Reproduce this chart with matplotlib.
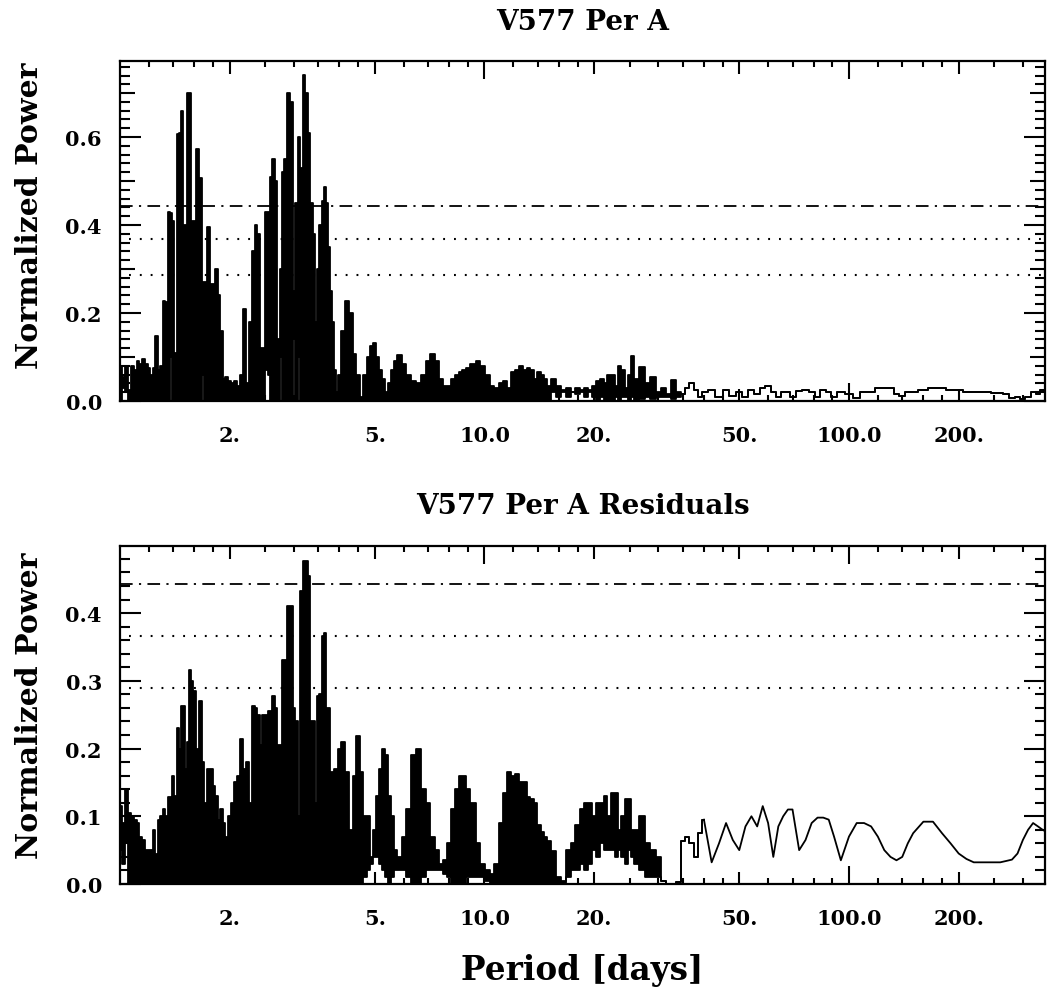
import numpy as np
import matplotlib
matplotlib.use("Agg")
import matplotlib.pyplot as plt
from matplotlib.ticker import FixedLocator, MultipleLocator, NullFormatter

plt.rcParams['font.family'] = ['DejaVu Serif']
plt.rcParams['font.weight'] = 'bold'

# ---------------- data ----------------
period = [
    1.00, 1.02, 1.04, 1.06, 1.08, 1.10, 1.12, 1.14, 1.16, 1.18,
    1.20, 1.22, 1.24, 1.26, 1.28, 1.30, 1.32, 1.34, 1.36, 1.38,
    1.40, 1.42, 1.44, 1.46, 1.48, 1.50, 1.52, 1.54, 1.56, 1.58, 1.60,
    1.63, 1.66, 1.69, 1.72, 1.75, 1.78, 1.81, 1.84, 1.87, 1.90, 1.93, 1.96,
    2.00, 2.04, 2.08, 2.12, 2.16, 2.20, 2.24, 2.28, 2.32, 2.36, 2.40,
    2.44, 2.48, 2.52, 2.56, 2.60, 2.64, 2.68, 2.72, 2.76, 2.80,
    2.85, 2.90, 2.95, 3.00, 3.05, 3.10, 3.15, 3.20, 3.25, 3.30, 3.35, 3.40,
    3.45, 3.50, 3.55, 3.60, 3.65, 3.70, 3.75, 3.80, 3.85, 3.90, 3.95, 4.00,
    4.1, 4.2, 4.3, 4.4, 4.5, 4.6, 4.7, 4.8, 4.9, 5.0,
    5.1, 5.2, 5.3, 5.4, 5.5, 5.6, 5.7, 5.8, 5.9, 6.0,
    6.2, 6.4, 6.6, 6.8, 7.0, 7.2, 7.4, 7.6, 7.8, 8.0, 8.2, 8.4, 8.6, 8.8, 9.0,
    9.3, 9.6, 9.9, 10.2, 10.5, 10.8, 11.1, 11.4, 11.7, 12.0,
    12.3, 12.6, 12.9, 13.2, 13.5, 13.8, 14.1, 14.4, 14.7, 15.0,
    15.5, 16.0, 16.5, 17.0, 17.5, 18.0, 18.5, 19.0, 19.5, 20.0, 20.5,
    21.0, 21.5, 22.0, 22.5, 23.0, 23.5, 24.0, 24.5, 25.0, 25.5, 26.0,
    27, 28, 29, 30, 31, 32, 33, 34, 35, 36, 37, 38, 39, 40,
    42, 44, 46, 48, 50, 52, 54, 56, 58, 60, 62, 64, 66, 68, 70,
    73, 76, 79, 82, 85, 88, 91, 95,
    100, 105, 110, 115, 120, 125, 130, 135, 140, 145, 150,
    160, 170, 180, 190, 200, 210, 220, 230, 240, 250, 260, 270, 280, 290,
    300, 310, 320, 330, 340, 345]

# upper envelope of the periodogram, "V577 Per A"
top_hi = [
    .08, .055, .08, .025, .08, .07, .09, .085, .095, .085,
    .075, .06, .075, .148, .07, .08, .228, .225, .43, .427,
    .41, .11, .608, .61, .66, .40, .40, .70, .70, .41, .41,
    .573, .507, .27, .27, .396, .266, .266, .30, .24, .16, .05, .055,
    .045, .04, .045, .035, .06, .21, .04, .18, .34, .40, .38,
    .12, .12, .43, .43, .51, .55, .50, .14, .30, .52,
    .55, .70, .68, .25, .45, .60, .53, .742, .70, .61, .45, .38,
    .18, .30, .40, .455, .486, .45, .35, .25, .18, .07, .02, .06,
    .16, .227, .20, .107, .06, .01, .06, .10, .125, .132,
    .10, .07, .05, .02, .04, .07, .09, .105, .105, .085,
    .06, .045, .04, .06, .09, .107, .09, .05, .035, .035, .05, .06, .065, .07, .075,
    .085, .09, .08, .06, .035, .03, .04, .045, .03, .065,
    .07, .08, .07, .075, .07, .05, .065, .06, .05, .035,
    .05, .035, .025, .03, .02, .03, .025, .03, .025, .035, .045,
    .05, .04, .058, .058, .035, .08, .07, .03, .06, .102, .05,
    .077, .04, .055, .02, .03, .015, .047, .02, .015, .03, .04, .025, .01, .02,
    .025, .01, .025, .012, .02, .01, .025, .015, .03, .035, .02, .01, .02, .02, .01,
    .022, .025, .02, .01, .025, .02, .01, .02,
    .015, .006, .02, .02, .03, .03, .03, .015, .012, .02, .02,
    .025, .03, .03, .025, .025, .02, .02, .02, .02, .018, .018, .015, .007, .01,
    .005, .01, .02, .015, .025, .02]

# lower envelope where the curve oscillates faster than a pixel (P < 35 d)
top_lo = [
    .0, .03, .02, .0, .0, .0, .0, .0, .0, .0,
    .0, .0, .0, .0, .0, .0, .0, .0, .0, .10,
    .0, .0, .0, .0, .0, .0, .0, .0, .0, .0, .0,
    .0, .0, .06, .0, .0, .0, .0, .0, .0, .0, .0, .0,
    .0, .0, .0, .0, .0, .0, .0, .0, .0, .0, .0,
    .0, .0, .07, .06, .0, .0, .0, .0, .10, .0,
    .0, .0, .0, .14, .0, .10, .0, .0, .0, .0, .0, .0,
    .0, .0, .0, .0, .0, .0, .0, .0, .0, .0, .0, .0,
    .0, .0, .0, .0, .0, .0, .0, .0, .0, .0,
    .0, .0, .0, .0, .0, .0, .0, .0, .0, .0,
    .0, .0, .0, .0, .0, .0, .0, .0, .0, .0, .0, .0, .0, .0, .0,
    .0, .0, .0, .0, .0, .0, .0, .0, .0, .0,
    .0, .0, .0, .0, .0, .0, .0, .0, .0, .0,
    .02, .01, .02, .01, .02, .015, .02, .01, .02, .01, .0,
    .01, .0, .0, .0, .01, .0, .01, .01, .0, .01, .0,
    .005, .01, .005, .01, .01, .01, .005, .01]

# upper envelope, "V577 Per A Residuals"
res_hi = [
    .115, .09, .14, .105, .10, .095, .09, .07, .065, .05,
    .05, .05, .08, .045, .095, .10, .11, .10, .128, .128,
    .16, .13, .23, .20, .263, .263, .17, .21, .316, .30, .285,
    .20, .27, .18, .12, .17, .17, .145, .13, .095, .11, .09, .07,
    .10, .12, .15, .16, .214, .17, .18, .12, .263, .26, .25,
    .205, .25, .25, .255, .255, .278, .26, .205, .205, .33,
    .33, .41, .41, .26, .24, .10, .432, .477, .477, .455, .24, .24,
    .12, .278, .28, .366, .37, .26, .26, .165, .165, .17, .17, .20,
    .21, .165, .08, .16, .218, .165, .10, .10, .04, .08,
    .13, .17, .20, .19, .13, .10, .05, .04, .04, .07,
    .11, .19, .20, .14, .12, .07, .05, .03, .035, .06, .11, .14, .16, .16, .14,
    .12, .06, .03, .02, .015, .03, .09, .135, .166, .16,
    .163, .15, .15, .128, .125, .12, .087, .077, .07, .064,
    .049, .01, .005, .05, .06, .087, .11, .12, .12, .10, .12,
    .12, .13, .10, .134, .134, .08, .10, .125, .125, .08, .08,
    .10, .06, .05, .04, .005, .0, .0, .003, .063, .07, .06, .04, .075, .095,
    .032, .06, .09, .065, .05, .085, .10, .085, .115, .09, .04, .085, .10, .11, .11,
    .05, .065, .09, .098, .098, .095, .07, .035,
    .07, .09, .09, .085, .07, .05, .04, .035, .04, .06, .075,
    .092, .092, .075, .06, .045, .037, .032, .032, .032, .032, .032, .034, .036, .045,
    .065, .08, .09, .085, .08, .078]

# lower envelope of the residual periodogram (P < 31 d)
res_lo = [
    .05, .03, .06, .0, .0, .0, .0, .0, .0, .0,
    .0, .0, .0, .0, .0, .0, .0, .0, .0, .0,
    .0, .0, .0, .0, .0, .0, .0, .0, .0, .0, .0,
    .0, .0, .0, .0, .0, .0, .0, .0, .0, .0, .0, .0,
    .0, .0, .0, .0, .0, .0, .0, .0, .0, .0, .0,
    .0, .0, .0, .0, .0, .0, .0, .0, .0, .0,
    .0, .0, .0, .0, .0, .0, .0, .0, .0, .0, .0, .0,
    .0, .0, .0, .0, .0, .0, .0, .0, .0, .0, .0, .0,
    .0, .0, .0, .0, .0, .0, .01, .02, .03, .04,
    .04, .03, .02, .01, .0, .01, .02, .02, .02, .02,
    .01, .0, .0, .01, .02, .02, .02, .02, .015, .01, .0, .0, .0, .0, .01,
    .01, .01, .01, .005, .0, .0, .0, .0, .0, .0,
    .0, .0, .0, .0, .0, .0, .0, .0, .0, .0,
    .0, .0, .0, .01, .02, .02, .03, .02, .03, .05, .04,
    .06, .05, .05, .05, .04, .05, .04, .03, .05, .04, .03,
    .02, .01, .01, .01]

# false-alarm levels (dash-dot, dotted, dotted)
fap_top = [0.443, 0.368, 0.286]
fap_res = [0.443, 0.366, 0.289]

titles = ["V577 Per A", "V577 Per A Residuals"]
x_major = [2, 5, 10, 20, 50, 100, 200]
x_labels = ["2.", "5.", "10.0", "20.", "50.", "100.0", "200."]
x_minor = [1.2, 1.4, 1.6, 1.8, 2.5, 3, 3.5, 4, 4.5, 6, 7, 8, 9,
           12, 14, 16, 18, 25, 30, 35, 40, 45, 60, 70, 80, 90,
           120, 140, 160, 180, 250, 300]

assert len(top_hi) == len(period), len(top_hi)
assert len(res_hi) == len(period), len(res_hi)

# ---------------- figure ----------------
W, H = 1051, 995
fig = plt.figure(figsize=(W / 100, H / 100), dpi=100)


def frac(x0, y0, x1, y1):
    return [x0 / W, 1 - y1 / H, (x1 - x0) / W, (y1 - y0) / H]


ax1 = fig.add_axes(frac(120, 62, 1045, 402))
ax2 = fig.add_axes(frac(120, 547, 1045, 885))

P = np.asarray(period, dtype=float)


def draw_curve(ax, hi, lo_part, linear_from=None):
    hi = np.asarray(hi, dtype=float)
    lo = np.concatenate([np.asarray(lo_part, dtype=float), hi[len(lo_part):]])
    n = len(P) if linear_from is None else period.index(linear_from) + 1
    ax.fill_between(P[:n], lo[:n], hi[:n], step='mid', color='k', lw=0)
    ax.step(P[:n], hi[:n], where='mid', color='k', lw=1.3)
    ax.step(P[:n], lo[:n], where='mid', color='k', lw=1.3)
    if linear_from is not None:
        k = n - 1
        ax.plot(P[k:], hi[k:], color='k', lw=1.3)


draw_curve(ax1, top_hi, top_lo)
draw_curve(ax2, res_hi, res_lo, linear_from=40)

for ax, faps in ((ax1, fap_top), (ax2, fap_res)):
    ax.axhline(faps[0], color='k', lw=1.3, dashes=(7, 3.5, 1.2, 3.5))
    ax.axhline(faps[1], color='k', lw=1.5, dashes=(0.9, 4.3), xmin=0.01)
    ax.axhline(faps[2], color='k', lw=1.5, dashes=(0.9, 4.3), xmin=0.01)

for ax in (ax1, ax2):
    ax.set_xscale('log')
    ax.set_xlim(1.0, 345)
    ax.xaxis.set_major_locator(FixedLocator(x_major))
    ax.set_xticklabels(x_labels)
    ax.xaxis.set_minor_locator(FixedLocator(x_minor))
    ax.xaxis.set_minor_formatter(NullFormatter())
    ax.tick_params(which='both', direction='in', top=True, right=True,
                   width=1.5)
    ax.tick_params(axis='x', which='minor', length=4.5)
    ax.tick_params(axis='x', which='major', labelsize=15, pad=17)
    ax.tick_params(axis='y', which='minor', length=7)
    ax.tick_params(axis='y', which='major', labelsize=15, pad=13)
    for sp in ax.spines.values():
        sp.set_linewidth(1.6)
    for t, v in zip(ax.xaxis.get_major_ticks(), x_major):
        L = 13 if v in (10, 100) else 9
        t.tick1line.set_markersize(L)
        t.tick2line.set_markersize(L)

# y axes
ax1.set_ylim(0, 0.773)
y1_major = [0.0, 0.1, 0.2, 0.3, 0.4, 0.5, 0.6, 0.7]
ax1.yaxis.set_major_locator(FixedLocator(y1_major))
ax1.set_yticklabels(["0.0", "", "0.2", "", "0.4", "", "0.6", ""])
ax1.yaxis.set_minor_locator(MultipleLocator(0.02))
for t, v in zip(ax1.yaxis.get_major_ticks(), y1_major):
    L = 15 if round(v * 10) % 2 == 0 else 10.5
    t.tick1line.set_markersize(L)
    t.tick2line.set_markersize(L)

ax2.set_ylim(0, 0.499)
y2_major = [0.0, 0.1, 0.2, 0.3, 0.4]
ax2.yaxis.set_major_locator(FixedLocator(y2_major))
ax2.set_yticklabels(["0.0", "0.1", "0.2", "0.3", "0.4"])
ax2.yaxis.set_minor_locator(MultipleLocator(0.02))
for t in ax2.yaxis.get_major_ticks():
    t.tick1line.set_markersize(15)
    t.tick2line.set_markersize(15)

for ax in (ax1, ax2):
    for lab in ax.get_xticklabels() + ax.get_yticklabels():
        lab.set_fontweight('bold')

xc = (120 + 1045) / 2 / W
fig.text(xc, 1 - 22 / H, titles[0], ha='center', va='center',
         fontsize=20, fontweight='bold')
fig.text(xc, 1 - 506 / H, titles[1], ha='center', va='center',
         fontsize=20, fontweight='bold')
fig.text(xc, 1 - 971 / H, "Period [days]", ha='center', va='center',
         fontsize=23.5, fontweight='bold')
fig.text(30 / W, 1 - 216 / H, "Normalized Power", ha='center', va='center',
         rotation=90, fontsize=21.5, fontweight='bold')
fig.text(30 / W, 1 - 706 / H, "Normalized Power", ha='center', va='center',
         rotation=90, fontsize=21.5, fontweight='bold')

fig.savefig("out.png", dpi=100)
